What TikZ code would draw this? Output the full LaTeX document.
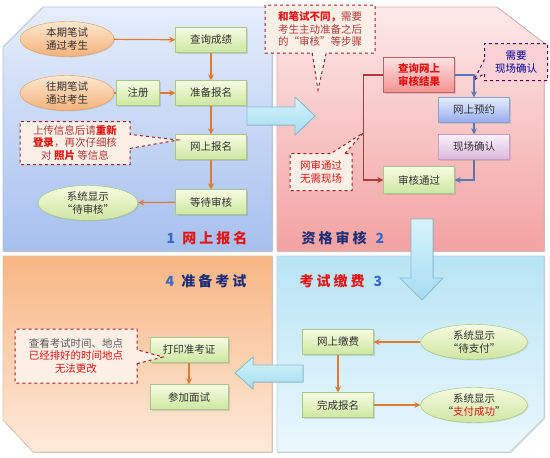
\documentclass[tikz,border=0pt]{standalone}
\usepackage{fontspec}
\setmainfont{Noto Sans CJK SC}
\usepackage{xcolor}
\usepackage{tikz}
\usetikzlibrary{shapes.geometric,shapes.callouts,shadows,arrows.meta}

\definecolor{txtgray}{HTML}{303030}
\definecolor{boxtop}{HTML}{F7FCE2}
\definecolor{boxbot}{HTML}{CDE7A0}
\definecolor{boxline}{HTML}{A9C88C}
\definecolor{ovaltop}{HTML}{FDE8D0}
\definecolor{ovalbot}{HTML}{F4B27A}
\definecolor{ovalline}{HTML}{E59B5C}
\definecolor{gtop}{HTML}{F6FBE0}
\definecolor{gbot}{HTML}{CFE6A2}
\definecolor{gline}{HTML}{9CC478}
\definecolor{flowor}{HTML}{E07A32}
\definecolor{flowred}{HTML}{B23A3A}
\definecolor{flowblue}{HTML}{5A78B8}
\definecolor{notefill}{HTML}{FCEFE6}
\definecolor{noteline}{HTML}{A0202E}
\definecolor{notetxt}{HTML}{B03A3A}
\definecolor{notered}{HTML}{E41414}
\definecolor{numblue}{HTML}{3A68C8}
\definecolor{titnavy}{HTML}{1E2F78}
\definecolor{ponetop}{HTML}{E6EEFC}
\definecolor{ponebot}{HTML}{A6C0EE}
\definecolor{ptwotop}{HTML}{FDE9E9}
\definecolor{ptwobot}{HTML}{F3A2A2}
\definecolor{pthreetop}{HTML}{B8E4F5}
\definecolor{pthreebot}{HTML}{EBF8FD}
\definecolor{pfourtop}{HTML}{F8B683}
\definecolor{pfourbot}{HTML}{FDEADB}
\definecolor{bigtop}{HTML}{D6F3FC}
\definecolor{bigbot}{HTML}{A6DDF1}
\definecolor{bigline}{HTML}{86BCD4}

\begin{document}
\begin{tikzpicture}[x=1pt,y=-1pt,
    every node/.style={font=\fontsize{10.5}{12.5}\selectfont, align=center, text=txtgray},
    panel/.style={line width=0.8pt, drop shadow={opacity=0.25,shadow xshift=1pt,shadow yshift=-1pt}},
    bigarrow/.style={draw=bigline, line width=0.7pt, top color=bigtop, bottom color=bigbot},
    stepbox/.style={draw=boxline, top color=boxtop, bottom color=boxbot, minimum width=71pt,
        minimum height=25pt, inner sep=1pt, drop shadow={opacity=0.25,shadow xshift=1.5pt,shadow yshift=-1.5pt}},
    oval/.style={ellipse, draw=ovalline, top color=ovaltop, bottom color=ovalbot, minimum width=94pt,
        minimum height=35pt, inner sep=0pt, drop shadow={opacity=0.2,shadow xshift=1pt,shadow yshift=-1pt}},
    greenoval/.style={oval, draw=gline, top color=gtop, bottom color=gbot, minimum width=100pt},
    note/.style={rectangle callout, draw=noteline, dashed, line width=1pt, fill=notefill, text=notetxt,
        inner sep=1pt, callout pointer width=14pt},
    flow/.style={draw=flowor, line width=1.2pt, -{Stealth[length=6pt,width=6pt]}},
    title/.style={font=\fontsize{14}{16}\selectfont\bfseries}
  ]
  \useasboundingbox (0,0) rectangle (550,458);

  % four panels
  \filldraw[panel, draw=ponebot!80!black!60, top color=ponetop, bottom color=ponebot]
    (43,7) -- (272,7) -- (272,251) -- (3,251) -- (3,47) -- cycle; % 1
  \filldraw[panel, draw=ptwobot!85!black!70, top color=ptwotop, bottom color=ptwobot]
    (277,7) -- (497,7) -- (544,43) -- (544,251) -- (277,251) -- cycle; % 2
  \filldraw[panel, draw=pthreetop!80!black!60, top color=pthreetop, bottom color=pthreebot]
    (277,256) -- (544,256) -- (544,418) -- (510,452) -- (277,452) -- cycle; % 3
  \filldraw[panel, draw=pfourtop!85!black!60, top color=pfourtop, bottom color=pfourbot]
    (3,256) -- (272,256) -- (272,452) -- (33,452) -- (3,420) -- cycle; % 4

  % panel titles
  \node[title] (title1) at (207,238) {{\color{numblue}1}\hspace{7pt}{\color{notered}网\hspace{3pt}上\hspace{3pt}报\hspace{3pt}名}};
  \node[title] (title2) at (343,238) {{\color{titnavy}资\hspace{3pt}格\hspace{3pt}审\hspace{3pt}核}\hspace{9pt}{\color{numblue}2}};
  \node[title] (title3) at (341,281) {{\color{notered}考\hspace{3pt}试\hspace{3pt}缴\hspace{3pt}费}\hspace{9pt}{\color{numblue}3}};
  \node[title] (title4) at (206,281) {{\color{numblue}4}\hspace{7pt}{\color{titnavy}准\hspace{3pt}备\hspace{3pt}考\hspace{3pt}试}};

  % big arrows between panels
  \filldraw[bigarrow] (247,107) -- (295,107) -- (295,97) -- (315,116) -- (295,135)
    -- (295,125) -- (247,125) -- cycle;
  \filldraw[bigarrow] (411,219) -- (433,219) -- (433,278) -- (443,278) -- (422,300)
    -- (400,278) -- (411,278) -- cycle;
  \filldraw[bigarrow] (303,365) -- (253,365) -- (253,357) -- (235,373) -- (253,389)
    -- (253,382) -- (303,382) -- cycle;

  % 1: online registration
  \node[oval] (cur) at (67,39) {本期笔试\\通过考生};
  \node[oval] (past) at (67,93) {往期笔试\\通过考生};
  \node[stepbox] (score) at (211,40) {查询成绩};
  \node[stepbox, minimum width=43pt] (reg) at (138,93) {注册};
  \node[stepbox] (prep) at (211,93) {准备报名};
  \node[stepbox] (online) at (211,147) {网上报名};
  \node[stepbox] (wait) at (211,202) {等待审核};
  \node[greenoval] (show1) at (88,203) {系统显示\\“待审核”};
  \node[note, minimum width=110pt, minimum height=43pt, callout absolute pointer={(178,140)}] (tip1) at (75,143)
    {上传信息后请\textbf{\color{notered}重新}\\\textbf{\color{notered}登录}，再次仔细核\\对 \textbf{\color{notered}照片} 等信息};
  \draw[flow] (cur) -- (score);
  \draw[draw=flowor, line width=1.2pt] (past) -- (reg);
  \draw[flow] (reg) -- (prep);
  \draw[flow] (score) -- (prep);
  \draw[flow] (prep) -- (online);
  \draw[flow] (online) -- (wait);
  \draw[flow] (wait) -- (show1);

  % 2: qualification check
  \node[note, minimum width=110pt, minimum height=48pt, callout absolute pointer={(318,90)}] (tip2) at (320,29)
    {\textbf{\color{notered}和笔试不同，}需要\\考生主动准备之后\\的“审核”等步骤};
  \node[stepbox, draw=flowred!80, top color=ptwotop!60!red!25, bottom color=ptwobot!90!red,
    text=notered, font=\fontsize{10.5}{12.5}\selectfont\bfseries, minimum height=35pt] (result) at (419,75) {查询网上\\审核结果};
  \node[stepbox, draw=flowblue!70, top color=ponetop, bottom color=ponebot!90!blue] (book) at (474,110) {网上预约};
  \node[stepbox, draw=violet!40, top color=violet!5, bottom color=violet!28] (confirm) at (474,147) {现场确认};
  \node[stepbox, minimum height=27pt] (pass) at (419,180) {审核通过};
  \node[note, draw=violet!70!black, fill=violet!6!pink!60, text=blue!60!black, minimum width=63pt,
    minimum height=37pt, callout absolute pointer={(474,80)}] (tip3) at (516,62) {需要\\现场确认};
  \node[note, minimum width=62pt, minimum height=37pt, text=notered, callout absolute pointer={(363,133)}] (tip4) at (321,172)
    {网审通过\\无需现场};
  \draw[draw=flowred, line width=1.2pt, -{Stealth[length=6pt,width=6pt]}] (result.west) -- ++(-20,0) |- (pass.west);
  \draw[draw=flowblue, line width=1.2pt, -{Stealth[length=6pt,width=6pt]}] (result.east) -| (book.north);
  \draw[draw=flowblue, line width=1.2pt, -{Stealth[length=6pt,width=6pt]}] (book) -- (confirm);
  \draw[draw=flowblue, line width=1.2pt, -{Stealth[length=6pt,width=6pt]}] (confirm.south) |- (pass.east);

  % 3: payment
  \node[stepbox] (pay) at (338,342) {网上缴费};
  \node[stepbox] (done) at (338,405) {完成报名};
  \node[greenoval, minimum width=107pt] (show2) at (474,342) {系统显示\\“待支付”};
  \node[greenoval, minimum width=107pt] (show3) at (474,405) {系统显示\\“{\color{notered}支付成功}”};
  \draw[flow] (show2) -- (pay);
  \draw[flow] (pay) -- (done);
  \draw[flow] (done) -- (show3);

  % 4: exam
  \node[stepbox, minimum width=78pt] (ticket) at (189,350) {打印准考证};
  \node[stepbox, minimum width=78pt] (exam) at (189,397) {参加面试};
  \node[note, minimum width=122pt, minimum height=54pt, callout absolute pointer={(163,357)}] (tip5) at (76,356)
    {{\color{txtgray!80}查看考试时间、地点}\\{\color{notered}已经排好的时间地点}\\{\color{notered}无法更改}};
  \draw[flow] (ticket) -- (exam);
\end{tikzpicture}
\end{document}
